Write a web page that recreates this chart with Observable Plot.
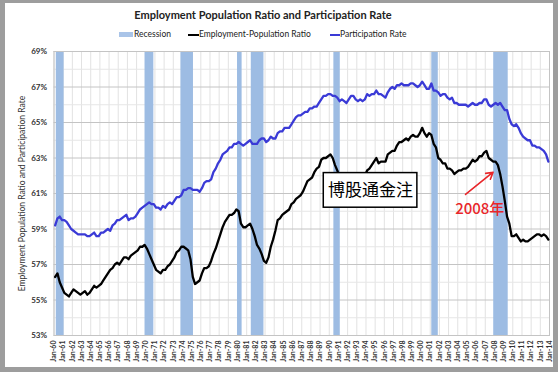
<!DOCTYPE html>
<html>
<head>
<meta charset="utf-8">
<script src="https://cdn.jsdelivr.net/npm/d3@7"></script>
<script src="https://cdn.jsdelivr.net/npm/@observablehq/plot@0.6"></script>
<style>
  html, body { margin: 0; padding: 0; background: #fff; }
  #wrap { position: relative; width: 558px; height: 372px; background: #9d9d9d; overflow: hidden; font-family: Lato, "Liberation Sans", sans-serif; }
  #inner { position: absolute; left: 5px; top: 3px; width: 548px; height: 364px; background: #fff; }
  #title { position: absolute; left: 0; top: 8px; width: 526px; text-align: center; font-weight: bold; font-size: 11px; color: #222; }
  .lg { position: absolute; top: 29px; font-size: 8.5px; color: #222; white-space: nowrap; }
  .sw { position: absolute; }
  #chart { position: absolute; left: 0; top: 42px; }
</style>
</head>
<body>
<div id="wrap">
  <div id="inner"></div>
  <div id="title">Employment Population Ratio and Participation Rate</div>
  <div class="sw" style="left:119px;top:32px;width:14px;height:5px;background:#a9c4e8;"></div>
  <div class="lg" style="left:134px;">Recession</div>
  <div class="sw" style="left:188px;top:33.5px;width:11px;height:2px;background:#000;"></div>
  <div class="lg" style="left:199px;">Employment-Population Ratio</div>
  <div class="sw" style="left:330px;top:33.5px;width:10px;height:2px;background:#3a3ad6;"></div>
  <div class="lg" style="left:340px;">Participation Rate</div>
  <div id="chart"></div>
</div>
<script>
// Years covered (quarterly values per year)
const years = d3.range(1960, 2014);

// Employment-Population Ratio (%), four quarterly readings per year
const empRatio = [
  [56.3, 56.5, 56.0, 55.7], [55.4, 55.3, 55.2, 55.4], [55.6, 55.5, 55.4, 55.3], [55.4, 55.5, 55.3, 55.4],
  [55.6, 55.8, 55.7, 55.8], [55.9, 56.1, 56.3, 56.5], [56.7, 56.8, 57.0, 57.1], [57.0, 57.2, 57.4, 57.4],
  [57.3, 57.5, 57.6, 57.7], [57.8, 58.0, 58.0, 58.1], [57.9, 57.6, 57.3, 57.0], [56.7, 56.6, 56.5, 56.7],
  [56.7, 56.9, 57.0, 57.2], [57.4, 57.7, 57.8, 58.0], [58.0, 57.9, 57.8, 57.3], [56.3, 55.9, 56.0, 56.1],
  [56.5, 56.8, 56.8, 56.9], [57.2, 57.6, 57.9, 58.3], [58.7, 59.1, 59.4, 59.6], [59.8, 59.8, 59.9, 60.1],
  [60.0, 59.3, 59.1, 59.1], [59.2, 59.3, 59.0, 58.6], [58.1, 57.9, 57.6, 57.2], [57.1, 57.4, 58.0, 58.4],
  [58.9, 59.5, 59.6, 59.8], [59.9, 60.0, 60.1, 60.4], [60.5, 60.7, 60.8, 60.9], [61.1, 61.4, 61.7, 61.8],
  [61.9, 62.2, 62.4, 62.5], [62.9, 63.0, 63.0, 63.1], [63.2, 63.0, 62.6, 62.3], [61.9, 61.8, 61.6, 61.5],
  [61.4, 61.6, 61.6, 61.5], [61.5, 61.7, 61.8, 62.0], [62.3, 62.4, 62.6, 62.8], [63.0, 62.7, 62.8, 62.8],
  [62.8, 63.2, 63.3, 63.4], [63.4, 63.7, 63.9, 63.9], [64.0, 64.1, 64.0, 64.2], [64.3, 64.2, 64.2, 64.4],
  [64.7, 64.4, 64.2, 64.4], [64.3, 63.8, 63.6, 63.0], [62.9, 62.7, 62.7, 62.4], [62.4, 62.3, 62.1, 62.2],
  [62.3, 62.3, 62.4, 62.4], [62.5, 62.7, 62.9, 62.8], [62.9, 63.1, 63.1, 63.3], [63.4, 63.0, 62.9, 62.8],
  [62.8, 62.6, 62.1, 61.4], [60.6, 59.7, 59.3, 58.6], [58.6, 58.7, 58.5, 58.3], [58.4, 58.3, 58.3, 58.4],
  [58.5, 58.6, 58.7, 58.7], [58.6, 58.7, 58.6, 58.4]
];

// Participation Rate (%), four quarterly readings per year
const partRate = [
  [59.2, 59.6, 59.7, 59.5], [59.5, 59.4, 59.2, 59.0], [58.9, 58.8, 58.7, 58.7], [58.7, 58.7, 58.6, 58.6],
  [58.7, 58.8, 58.6, 58.6], [58.8, 58.8, 58.9, 59.0], [58.9, 59.2, 59.3, 59.5], [59.5, 59.6, 59.7, 59.8],
  [59.5, 59.6, 59.6, 59.7], [59.9, 60.1, 60.2, 60.3], [60.4, 60.5, 60.4, 60.4], [60.2, 60.2, 60.1, 60.3],
  [60.2, 60.4, 60.5, 60.4], [60.6, 60.8, 60.8, 60.9], [61.2, 61.2, 61.3, 61.3], [61.2, 61.2, 61.2, 61.1],
  [61.3, 61.6, 61.7, 61.7], [61.8, 62.2, 62.4, 62.7], [62.9, 63.2, 63.3, 63.4], [63.6, 63.6, 63.8, 63.8],
  [63.9, 63.8, 63.7, 63.8], [63.9, 64.0, 63.8, 63.8], [63.8, 64.0, 64.1, 64.1], [63.9, 64.0, 64.2, 64.1],
  [64.1, 64.4, 64.5, 64.5], [64.7, 64.7, 64.7, 64.9], [65.1, 65.3, 65.4, 65.4], [65.5, 65.6, 65.6, 65.8],
  [65.8, 65.9, 65.9, 66.1], [66.3, 66.5, 66.5, 66.6], [66.6, 66.5, 66.5, 66.4], [66.2, 66.3, 66.2, 66.1],
  [66.3, 66.5, 66.5, 66.3], [66.2, 66.3, 66.2, 66.3], [66.6, 66.5, 66.6, 66.6], [66.8, 66.6, 66.6, 66.5],
  [66.4, 66.7, 66.9, 67.0], [66.9, 67.1, 67.1, 67.2], [67.1, 67.1, 67.1, 67.2], [67.2, 67.1, 67.0, 67.1],
  [67.3, 67.1, 66.9, 66.9], [67.2, 66.8, 66.8, 66.7], [66.5, 66.6, 66.6, 66.4], [66.3, 66.4, 66.1, 66.1],
  [66.0, 66.0, 66.0, 66.0], [65.9, 66.0, 66.1, 66.0], [66.0, 66.1, 66.1, 66.3], [66.3, 66.0, 65.9, 66.0],
  [66.1, 66.0, 66.1, 65.9], [65.7, 65.7, 65.2, 64.9], [64.8, 64.9, 64.7, 64.4], [64.2, 64.1, 64.0, 64.0],
  [63.7, 63.7, 63.6, 63.6], [63.5, 63.4, 63.2, 62.8]
];

// Recessions (decimal years)
const recStart = [1960.25, 1969.92, 1973.83, 1980.0, 1981.5, 1990.5, 2001.17, 2007.92];
const recEnd   = [1961.1, 1970.88, 1975.2, 1980.5, 1982.88, 1991.2, 2001.88, 2009.5];

// Axis ticks
const xTicks = d3.range(1960, 2015);
const yMajor = [53, 55, 57, 59, 61, 63, 65, 67, 69];
const yMinor = [54, 56, 58, 60, 62, 64, 66, 68];

const flat = (rows) => rows.flatMap((r, i) => r.map((v, q) => ({date: years[i] + q / 4 + 0.125, value: v})));
const empData = flat(empRatio);
const partData = flat(partRate);
const recessions = recStart.map((s, i) => ({x1: s, x2: recEnd[i]}));

const chart = Plot.plot({
  width: 558,
  height: 326,
  marginLeft: 53.5,
  marginRight: 9,
  marginTop: 9,
  marginBottom: 33,
  style: {fontFamily: "Lato, 'Liberation Sans', sans-serif", background: "transparent", overflow: "visible"},
  x: {domain: [1960, 2014]},
  y: {domain: [53, 69]},
  marks: [
    Plot.gridX(xTicks, {stroke: "#e2e2e2", strokeOpacity: 1}),
    Plot.gridY(yMinor, {stroke: "#e6e6e6", strokeOpacity: 1}),
    Plot.gridY(yMajor, {stroke: "#c4c4c4", strokeOpacity: 1}),
    Plot.rectY(recessions, {x1: "x1", x2: "x2", y1: 53, y2: 69, fill: "#9dbce3"}),
    Plot.frame({stroke: "#c4c4c4"}),
    Plot.line(partData, {x: "date", y: "value", stroke: "#3a3ad6", strokeWidth: 2.3}),
    Plot.line(empData, {x: "date", y: "value", stroke: "#000", strokeWidth: 2.3}),
    Plot.rect([0], {x1: 1989.4, x2: 1999.6, y1: 60.2, y2: 62.15, fill: "#fff", stroke: "#000", strokeWidth: 1.5}),
    Plot.text(["博股通金注"], {x: 1994.5, y: 61.15, fontSize: 17, fill: "#000", fontFamily: "'Noto Sans CJK SC', sans-serif"}),
    Plot.arrow([0], {x1: 2004.85, y1: 60.95, x2: 2007.85, y2: 62.2, stroke: "#e8262a", strokeWidth: 1.6, headLength: 7}),
    Plot.text(["2008年"], {x: 2006.4, y: 60.1, fontSize: 15, fontWeight: 500, fill: "#e8262a", fontFamily: "'Noto Sans CJK SC', sans-serif"}),
    Plot.axisX({ticks: xTicks, tickFormat: (d) => "Jan-" + String(d % 100).padStart(2, "0"), tickRotate: -90, tickSize: 0, tickPadding: 5, fontSize: 7, fontWeight: "bold", fill: "#333", label: null}),
    Plot.axisY({ticks: yMajor, tickFormat: (d) => d + "%", tickSize: 0, tickPadding: 7, fontSize: 8, fontWeight: "bold", fill: "#333", label: null}),
    Plot.text(["Employment Population Ratio and Participation Rate"], {frameAnchor: "left", textAnchor: "middle", rotate: -90, dx: -31.5, fontSize: 8.5, fill: "#333"})
  ]
});
document.getElementById("chart").appendChild(chart);
</script>
</body>
</html>
